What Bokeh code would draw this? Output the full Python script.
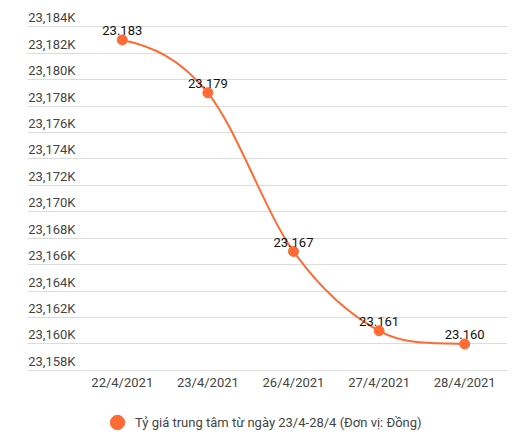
from bokeh.plotting import figure
from bokeh.models import (ColumnDataSource, FixedTicker, Grid, Legend, LegendItem,
                          LabelSet)
from bokeh.core.properties import value
from bokeh.embed import file_html
from bokeh.resources import INLINE

dates = ["22/4/2021", "23/4/2021", "26/4/2021", "27/4/2021", "28/4/2021"]
rates = [23183, 23179, 23167, 23161, 23160]
rate_labels = ["23.183", "23.179", "23.167", "23.161", "23.160"]
y_ticks = [23158, 23160, 23162, 23164, 23166, 23168, 23170, 23172, 23174,
           23176, 23178, 23180, 23182, 23184]
y_tick_labels = ["23,158K", "23,160K", "23,162K", "23,164K", "23,166K", "23,168K",
                 "23,170K", "23,172K", "23,174K", "23,176K", "23,178K", "23,180K",
                 "23,182K", "23,184K"]
series_name = "Tỷ giá trung tâm từ ngày 23/4-28/4 (Đơn vị: Đồng)"

ORANGE = "#ff6a35"
FONT = "Roboto"
TEXT = "#444444"

xs = list(range(len(dates)))

# the frame runs down to the bottom of the page so that the date labels and
# the legend can sit inside it, under the lowest grid line
p = figure(frame_width=480, frame_height=431, output_backend="svg",
           toolbar_location=None,
           x_range=(-1.107, 4.5), y_range=(23152.70, 23185.3),
           x_axis_location=None, y_axis_location=None,
           min_border_left=27, min_border_right=14,
           min_border_top=9, min_border_bottom=0)
p.outline_line_color = None
for r in p.center:
    if isinstance(r, Grid):
        r.visible = False

grid = Grid(dimension=1, ticker=FixedTicker(ticks=y_ticks),
            grid_line_color="#dcdcdc", grid_line_width=1)
p.add_layout(grid)

# y tick labels sit above the grid lines, over the left part of the plot
ysrc = ColumnDataSource(dict(x=[p.x_range.start] * len(y_ticks), y=y_ticks,
                             t=y_tick_labels))
p.text(x="x", y="y", text="t", source=ysrc, x_offset=48, y_offset=-9,
       text_align="right", text_baseline="middle", text_font=value(FONT),
       text_font_size="13px", text_color=TEXT)

# date labels under the lowest grid line
xsrc = ColumnDataSource(dict(x=xs, y=[y_ticks[0]] * len(xs), t=dates))
p.text(x="x", y="y", text="t", source=xsrc, y_offset=12,
       text_align="center", text_baseline="middle", text_font=value(FONT),
       text_font_size="13px", text_color=TEXT)

# smooth line through the points (cubic bezier segments)
n = len(rates)
slopes = []
for i in range(n):
    if i == 0:
        slopes.append((rates[1] - rates[0]) / 3)
    elif i == n - 1:
        slopes.append((rates[-1] - rates[-2]) / 3)
    else:
        slopes.append((rates[i + 1] - rates[i - 1]) / 2)
bz = ColumnDataSource(dict(
    x0=xs[:-1], y0=rates[:-1], x1=xs[1:], y1=rates[1:],
    cx0=[x + 1 / 3 for x in xs[:-1]],
    cy0=[rates[i] + slopes[i] / 3 for i in range(n - 1)],
    cx1=[x - 1 / 3 for x in xs[1:]],
    cy1=[rates[i + 1] - slopes[i + 1] / 3 for i in range(n - 1)],
))
p.bezier(x0="x0", y0="y0", x1="x1", y1="y1", cx0="cx0", cy0="cy0",
         cx1="cx1", cy1="cy1", source=bz, line_color=ORANGE, line_width=2)

src = ColumnDataSource(dict(x=xs, y=rates, t=rate_labels))
pts = p.scatter(x="x", y="y", source=src, size=10, fill_color=ORANGE,
                line_color=ORANGE)

labels = LabelSet(x="x", y="y", text="t", source=src, y_offset=9,
                  text_align="center", text_baseline="middle",
                  text_font=value(FONT), text_font_size="13px", text_color="#111111")
p.add_layout(labels)

legend = Legend(items=[LegendItem(label=series_name, renderers=[pts])],
                location=(72, 0), orientation="horizontal",
                glyph_width=36, glyph_height=36,
                label_standoff=0, padding=0, margin=0, border_line_color=None,
                background_fill_alpha=0, label_text_font=FONT,
                label_text_font_size="13px", label_text_color=TEXT)
p.add_layout(legend, "center")

open("out.html", "w").write(file_html(p, INLINE))
